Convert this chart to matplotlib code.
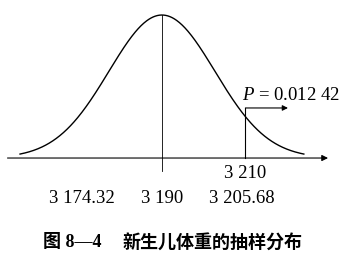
import numpy as np
import matplotlib.pyplot as plt

# values shown on the chart
mu = 3190
crit_low = 3174.32
crit_high = 3205.68
sample_mean = 3210
p_text = "0.012 42"
caption_num = "图 8—4"
caption_title = "新生儿体重的抽样分布"

# schematic curve width (drawing scale, not the true standard error)
sd_draw = 12.7
x_lo, x_hi = 3156, 3224

plt.rcParams['font.family'] = ['Liberation Serif', 'DejaVu Serif']
plt.rcParams['mathtext.fontset'] = 'custom'
plt.rcParams['mathtext.it'] = 'Liberation Serif:italic'

fig = plt.figure(figsize=(3.56, 2.71), dpi=100)
ax = fig.add_axes([0, 0, 1, 1])
ax.set_xlim(3151.2, 3236.5)
ax.set_ylim(-0.79, 1.105)
ax.axis('off')

# density curve, peak scaled to 1
x = np.linspace(x_lo, x_hi, 400)
y = np.exp(-0.5 * ((x - mu) / sd_draw) ** 2)
ax.plot(x, y, color='black', lw=1.0)

# horizontal axis with arrow
ax.annotate('', xy=(3229.8, 0), xytext=(3153, 0),
            arrowprops=dict(arrowstyle='-|>', color='black', lw=0.8,
                            mutation_scale=9, shrinkA=0, shrinkB=0))

# centre line
ax.plot([mu, mu], [-0.09, 1.0], color='black', lw=0.6)

# sample mean marker and the arrow to the tail probability
ax.plot([sample_mean, sample_mean], [0, 0.35], color='black', lw=0.8)
ax.annotate('', xy=(3220.2, 0.35), xytext=(sample_mean, 0.35),
            arrowprops=dict(arrowstyle='-|>', color='black', lw=0.8,
                            mutation_scale=8, shrinkA=0, shrinkB=0))
ax.text(sample_mean - 0.8, 0.44, r'$P$' + ' = ' + p_text, fontsize=13.5,
        ha='left', va='center')
ax.text(sample_mean, -0.105, '3 210', fontsize=13.5, ha='center', va='center')

# critical values row (spread a little wider than scale, as in the figure)
for val, lab in [(crit_low, '3 174.32'), (mu, '3 190'), (crit_high, '3 205.68')]:
    ax.text(mu + (val - mu) * 1.22, -0.28, lab, fontsize=13.5,
            ha='center', va='center')

# caption
fig.text(0.121, 0.107, caption_num, fontsize=13, fontweight='bold',
         family=['Liberation Serif', 'Noto Sans CJK SC'], ha='left', va='center')
fig.text(0.345, 0.107, caption_title, fontsize=13, fontweight='bold',
         family=['Noto Sans CJK SC', 'DejaVu Sans'], ha='left', va='center')

fig.savefig('out.png', dpi=100)
